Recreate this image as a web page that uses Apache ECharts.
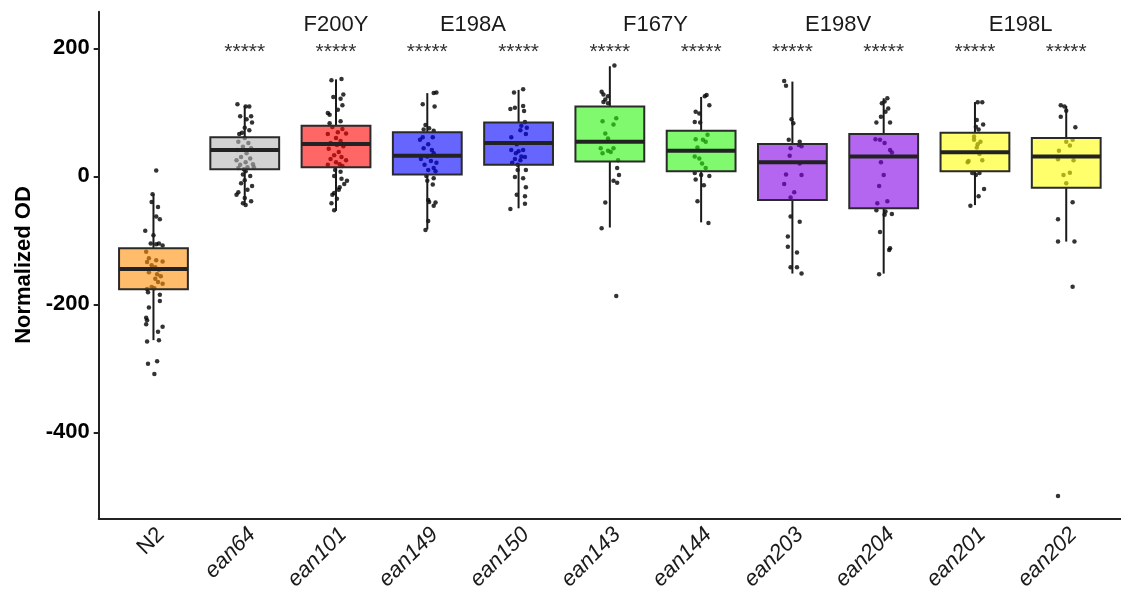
<!DOCTYPE html>
<html><head><meta charset="utf-8">
<script src="https://cdn.jsdelivr.net/npm/echarts@6/dist/echarts.min.js"></script>
<style>html,body{margin:0;padding:0;background:#fff}#c{width:1121px;height:600px}</style>
</head><body><div id="c"></div>
<script>
// ---------- data ----------
const categories = ['N2','ean64','ean101','ean149','ean150','ean143','ean144','ean203','ean204','ean201','ean202'];
const whiskerLow  = [-256, -43, -54, -83, -50, -80, -72, -152, -152, -45, -102];
const q1          = [-176.6, 11, 14, 3, 18, 23, 8, -37, -50, 8, -18];
const median      = [-144.8, 41, 50.5, 32, 52, 54, 40, 22, 31, 37.5, 31];
const q3          = [-112.5, 61, 79, 69, 84, 109, 71, 50.5, 66, 68, 60];
const whiskerHigh = [-28, 110, 151.5, 130, 135, 172, 124, 148, 122, 116, 110];

const yTicks = [-400, -200, 0, 200];
const starLabel = '*****';
const starCats = [1,2,3,4,5,6,7,8,9,10];
const starValue = 194;
const groupLabels = ['F200Y','E198A','F167Y','E198V','E198L'];
const groupLabelAt = [2, 3.5, 5.5, 7.5, 9.5];
const groupLabelValue = 236;

// jittered observations: [jitter (category units), value]
const pointsN2 = [[0.03,9],[-0.02,-40],[0.05,-48],[-0.01,-28],[0.03,-63],[0.07,-67],[-0.09,-85],[0,-92],[-0.03,-105],[0.06,-105],[0.03,-106],[0.10,-108],[-0.08,-118],[-0.05,-128],[-0.07,-134],[0.03,-131],[0.10,-133],[-0.02,-139],[0.02,-142],[0.06,-146],[-0.05,-150],[0.04,-153],[0.08,-156],[0.02,-160],[0.05,-165],[0.10,-168],[-0.02,-173],[-0.07,-176],[0.01,-175],[-0.06,-181],[0.07,-185],[0.07,-195],[-0.05,-205],[-0.08,-221],[-0.07,-225],[-0.08,-231],[0.10,-235],[0.05,-243],[0.06,-256],[-0.07,-258],[-0.06,-293],[0.04,-289],[0.01,-309]];
const pointsEan64 = [[-0.08,112.5],[0.05,109],[0.01,109],[-0.05,94],[0.07,94],[0.02,89],[0.08,84],[0,76],[0.05,72],[-0.03,68],[-0.06,66],[0,60],[-0.07,54],[0.04,52],[-0.02,46],[0.07,44],[-0.08,41],[0.02,36],[-0.04,30],[0.06,28],[-0.09,25],[0.01,22],[-0.05,18],[0.09,19],[0.03,14],[-0.07,13],[-0.01,11],[0.1,14],[0.01,8],[-0.02,3],[0.06,0.5],[0,-6],[-0.04,-11],[0.08,-15],[0.03,-21],[-0.07,-25],[-0.09,-29],[0,-34],[-0.02,-42],[0.07,-39],[0.01,-45]];
const pointsEan101 = [[-0.05,150],[0.06,152],[0.08,128],[-0.03,124],[0.05,121],[0.07,111],[0.02,104],[-0.09,99],[-0.07,96],[0.05,86],[-0.07,83],[-0.04,77],[0.07,74],[0.02,69],[-0.09,66],[0.11,67],[0,60],[0.05,55],[-0.06,52],[0.01,49],[0.08,47],[-0.08,43],[0.03,38],[-0.02,33],[0.06,30],[-0.06,27],[0.11,25],[0,22],[0.04,19],[-0.09,18],[0.07,16],[-0.01,10],[0.05,7],[-0.02,0.5],[0.06,-4],[0.12,-7],[0.09,-12],[0.04,-17],[0.03,-21],[-0.02,-26],[-0.04,-29],[0.01,-35],[-0.05,-42],[-0.02,-53]];
const pointsEan149 = [[0.07,130],[0.1,131],[-0.05,112.5],[0.08,109],[-0.02,80],[0.02,75],[-0.04,73],[0.07,71],[-0.05,61],[0.06,61],[-0.08,57],[0.01,50],[-0.04,44],[0.05,41],[0.07,36],[0,31],[-0.07,27],[0.04,24],[0.1,21],[-0.03,18],[0.07,13],[0.01,10],[0.09,8],[-0.01,0.5],[0.07,-3],[0,-7],[0.06,-13],[0.01,-37],[0.02,-40],[0.09,-41],[0.07,-46],[0.01,-70],[-0.02,-84]];
const pointsEan150 = [[-0.05,131],[0.05,136],[-0.09,105],[-0.04,107],[0.05,110],[0.06,102],[0.07,85],[0.03,79],[0.09,76],[0.02,72],[-0.08,61],[0.08,66],[-0.02,50],[0.05,41],[-0.08,41],[0,39],[-0.03,36],[0.03,31],[-0.04,27],[0.02,25],[0.07,30],[-0.07,21],[-0.01,18],[0.08,10],[-0.01,10],[0.05,-3],[-0.04,-1],[0.08,-17],[-0.02,-29],[0.07,-31],[-0.09,-51],[0.07,-43]];
const pointsEan143 = [[0.05,173],[-0.09,132],[-0.07,128],[-0.02,125],[-0.05,120],[-0.02,114],[-0.07,116],[-0.08,86],[0.07,90.6],[0.04,81],[-0.05,67],[-0.02,59],[-0.1,44],[0.04,44],[-0.08,36],[-0.02,40],[0.01,38],[0.09,25],[0.08,13],[0.1,2],[0.04,-7],[0.08,-10],[-0.05,-41],[-0.09,-81],[0.07,-187]];
const pointsEan144 = [[0.04,125],[0.06,127],[0.09,111],[-0.06,101],[-0.02,98],[-0.07,85],[-0.01,84],[0.07,65],[-0.06,58],[0.02,57],[0.05,54],[-0.04,45],[-0.07,31],[-0.02,28],[0.01,20],[0.05,13],[-0.07,5],[0,2],[0.09,0.5],[-0.06,-5],[0.03,-14],[-0.04,-39],[0.08,-73]];
const pointsEan203 = [[-0.09,149],[-0.07,141.6],[-0.01,89],[0.01,83],[-0.04,57],[0.08,54],[0.1,47],[0.07,49],[-0.02,44],[-0.03,32],[0.08,20],[-0.07,3],[0.1,2],[-0.09,-12],[0.02,-25],[-0.02,-33],[-0.02,-63],[0.08,-71],[-0.05,-94],[-0.05,-110],[0.05,-119],[-0.02,-142],[0.05,-142],[0.1,-152]];
const pointsEan204 = [[-0.02,114],[0.04,122],[0.01,117],[0.05,106],[0.02,101],[-0.03,93],[-0.08,84],[0.07,84],[-0.09,58],[-0.04,57],[0.01,52],[0.07,41],[0.09,37],[-0.03,22],[0,2],[-0.05,-15],[-0.07,-42],[0.04,-39],[-0.08,-53],[0.02,-55],[0.09,-59],[0.01,-60],[-0.04,-87],[0.07,-112.5],[0.06,-115],[-0.05,-153]];
const pointsEan201 = [[0.03,115.6],[0.08,115.6],[0.02,88],[0.09,81],[0.04,73],[0.01,77.5],[-0.01,62],[0.06,54],[0.03,50],[-0.01,57],[0.02,45],[-0.07,24],[-0.08,22],[0.08,25],[0.05,35],[-0.03,5],[0.01,2],[0.05,5],[0.1,-20],[0.04,-31],[-0.05,-46]];
const pointsEan202 = [[-0.06,111],[-0.02,109],[0,102.5],[-0.06,93],[0.1,76.5],[0,54],[0.07,57],[0.04,48],[-0.08,40],[-0.09,26.5],[0.08,25],[0.04,5.6],[-0.03,2],[0,-11],[0.07,-40.6],[-0.09,-67],[-0.09,-102],[0.09,-102],[0.07,-172.5],[-0.09,-499.5]];
const pointGroups = [pointsN2, pointsEan64, pointsEan101, pointsEan149, pointsEan150, pointsEan143, pointsEan144, pointsEan203, pointsEan204, pointsEan201, pointsEan202];

// ---------- styles ----------
const fills = ['rgba(255,145,10,0.6)','rgba(182,182,182,0.6)','rgba(255,0,0,0.6)','rgba(0,0,255,0.6)','rgba(0,0,255,0.6)',
  'rgba(45,245,15,0.6)','rgba(45,245,15,0.6)','rgba(130,0,230,0.6)','rgba(130,0,230,0.6)','rgba(255,255,10,0.6)','rgba(255,255,10,0.6)'];
const FONT = '"Liberation Sans", Arial, Helvetica, sans-serif';
const labelShift = 0.08;

const boxData = categories.map((c, i) => [i, whiskerLow[i], q1[i], median[i], q3[i], whiskerHigh[i]]);
const scatterData = [];
pointGroups.forEach((g, i) => g.forEach(p => scatterData.push([i + p[0], p[1]])));

const chart = echarts.init(document.getElementById('c'), null, {renderer: 'canvas'});
chart.setOption({
  backgroundColor: '#ffffff',
  animation: false,
  grid: {left: 98.7, right: -9.6, top: 11.7, bottom: 81.7, containLabel: false},
  xAxis: {
    type: 'value', min: -0.6, max: 10.6,
    splitLine: {show: false},
    axisLine: {show: true, onZero: false, lineStyle: {color: '#222', width: 2}},
    axisTick: {show: false},
    axisLabel: {
      customValues: categories.map((c, i) => i + labelShift),
      rotate: 45, margin: 13,
      formatter: v => {
        const name = categories[Math.round(v - labelShift)];
        return name === 'N2' ? '{n|' + name + '}' : '{i|' + name + '}';
      },
      rich: {
        n: {fontFamily: FONT, fontSize: 22, color: '#1a1a1a'},
        i: {fontFamily: FONT, fontSize: 22, fontStyle: 'italic', color: '#1a1a1a'}
      }
    }
  },
  yAxis: {
    type: 'value', min: -534.4, max: 257.2,
    name: 'Normalized OD', nameLocation: 'middle', nameGap: 63,
    nameTextStyle: {fontFamily: FONT, fontSize: 22, fontWeight: 'bold', color: '#000'},
    splitLine: {show: false},
    axisLine: {show: true, onZero: false, lineStyle: {color: '#222', width: 2}},
    axisTick: {show: true, customValues: yTicks, length: 5, lineStyle: {color: '#222', width: 2}},
    axisLabel: {customValues: yTicks, margin: 9, fontFamily: FONT, fontSize: 22, fontWeight: 'bold', color: '#000'}
  },
  series: [
    {
      type: 'scatter', data: scatterData, symbol: 'circle', symbolSize: 4.5,
      itemStyle: {color: '#000'}, z: 2, silent: true
    },
    {
      type: 'custom', data: boxData, z: 3, silent: true,
      renderItem: (params, api) => {
        const i = api.value(0);
        const hw = 0.377;
        const c = api.coord([i, api.value(3)]);
        const yLo = api.coord([i, api.value(1)])[1];
        const yQ1 = api.coord([i, api.value(2)])[1];
        const yQ3 = api.coord([i, api.value(4)])[1];
        const yHi = api.coord([i, api.value(5)])[1];
        const xL = api.coord([i - hw, 0])[0];
        const xR = api.coord([i + hw, 0])[0];
        return {type: 'group', children: [
          {type: 'line', shape: {x1: c[0], y1: yHi, x2: c[0], y2: yQ3}, style: {stroke: '#1a1a1a', lineWidth: 2}},
          {type: 'line', shape: {x1: c[0], y1: yQ1, x2: c[0], y2: yLo}, style: {stroke: '#1a1a1a', lineWidth: 2}},
          {type: 'rect', shape: {x: xL, y: yQ3, width: xR - xL, height: yQ1 - yQ3}, style: {fill: fills[i], stroke: '#2a2a2a', lineWidth: 2}},
          {type: 'line', shape: {x1: xL, y1: c[1], x2: xR, y2: c[1]}, style: {stroke: '#222', lineWidth: 4}}
        ]};
      }
    },
    {
      type: 'custom', data: starCats.map(i => [i, starValue]), z: 4, silent: true,
      renderItem: (params, api) => {
        const p = api.coord([api.value(0), api.value(1)]);
        return {type: 'text', x: p[0], y: p[1], style: {text: starLabel, fill: '#333', fontFamily: FONT, fontSize: 21, align: 'center', verticalAlign: 'middle'}};
      }
    },
    {
      type: 'custom', data: groupLabelAt.map((x, k) => [x, groupLabelValue, k]), z: 4, silent: true,
      renderItem: (params, api) => {
        const p = api.coord([api.value(0), api.value(1)]);
        return {type: 'text', x: p[0], y: p[1], style: {text: groupLabels[api.value(2)], fill: '#1a1a1a', fontFamily: FONT, fontSize: 22, align: 'center', verticalAlign: 'middle'}};
      }
    }
  ]
});
</script>
</body></html>
